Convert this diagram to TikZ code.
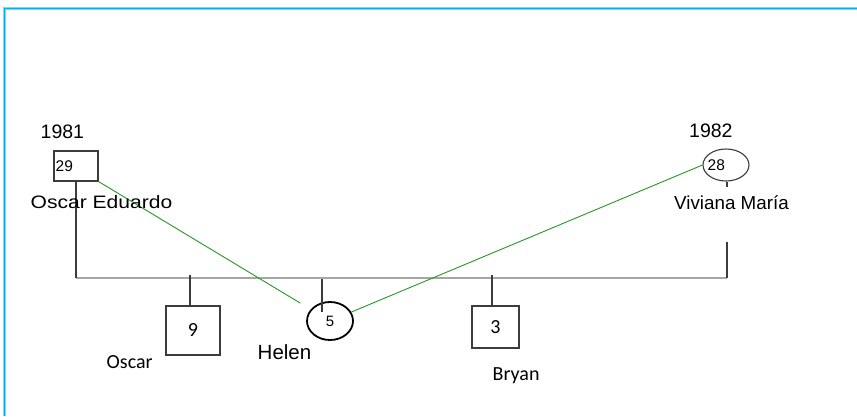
\documentclass[tikz,border=0pt]{standalone}
\usepackage{fontspec}
\setmainfont{Liberation Sans}
\newfontfamily\calibrilike{Carlito}
\usetikzlibrary{shapes.geometric,calc}
\definecolor{framecyan}{RGB}{0,176,240}
\definecolor{framelight}{RGB}{120,215,250}
\definecolor{tiegreen}{RGB}{40,150,40}
\definecolor{sibgray}{RGB}{166,166,166}
\definecolor{linedark}{RGB}{60,60,60}
\tikzset{
  male/.style={draw=linedark, line width=1.1pt, rectangle, inner sep=0pt},
  female/.style={draw=linedark, line width=1.1pt, ellipse, inner sep=0pt},
  kin/.style={draw=linedark, line width=1.2pt},
  sibline/.style={draw=sibgray, line width=2pt},
  tie/.style={draw=tiegreen, line width=0.9pt},
  lbl/.style={inner sep=0pt, anchor=base west},
  arialtxt/.style={font=\fontsize{#1}{#1}\selectfont},
  calitxt/.style={font=\calibrilike\fontsize{#1}{#1}\selectfont},
}
\begin{document}
\begin{tikzpicture}[x=1pt, y=-1pt]
  \useasboundingbox (0,0) rectangle (857,416);
  \fill[white] (0,0) rectangle (857,416);

  % page frame (top and left edges)
  \draw[framelight, line width=3.5pt] (4.5,416) -- (4.5,8.5) -- (857,8.5);
  \draw[framecyan, line width=1.6pt] (4.5,416) -- (4.5,8.5) -- (857,8.5);

  % parents
  \node[male, minimum width=44pt, minimum height=30pt,
        label={[anchor=west, inner sep=2pt, arialtxt=15.5]west:29}]
        (father) at (76,166) {};
  \node[female, minimum width=46pt, minimum height=32pt,
        label={[anchor=west, inner sep=5pt, arialtxt=15.5]west:28}]
        (mother) at (726,165) {};

  % children
  \node[male, minimum width=54pt, minimum height=49pt, calitxt=20]
        (oscar) at (193,330.5) {9};
  \node[female, draw=black, line width=1.8pt, minimum width=46pt, minimum height=38pt,
        arialtxt=15] (helen) at (330,321) {5};
  \node[male, minimum width=47pt, minimum height=42pt, calitxt=20]
        (bryan) at (495.5,327) {3};

  % sibship line
  \coordinate (sibL) at (76,278);
  \coordinate (sibR) at (727,278);
  \coordinate (dropO) at (190,275);
  \coordinate (dropH) at (322,279);
  \coordinate (dropB) at (492,275);
  \draw[sibline] (sibL) -- (sibR);

  % parent and child links
  \draw[kin] (father.south) -- (sibL);
  \draw[kin] (mother.south -| sibR) -- (sibR);
  \draw[kin] (dropO) -- (dropO |- oscar.north);
  \draw[kin] (dropH) -- ($(dropH)+(0,33)$);
  \draw[kin] (dropB) -- (dropB |- bryan.north);

  % emotional ties
  \draw[tie, shorten >=12pt] (father.south east) -- (helen);
  \draw[tie] (helen) -- (mother.west);

  % names and years
  \node[lbl, arialtxt=19.5] (y1981) at (40.5,138) {1981};
  \node[lbl, arialtxt=19.5] (y1982) at (689,137.7) {1982};
  \node[lbl, arialtxt=18] (nfather) at (30.5,208.3) {\scalebox{1.17}[1]{Oscar Eduardo}};
  \node[anchor=north, inner sep=0pt, fill=white, text height=22pt, text depth=33pt,
        arialtxt=18.8] (nmother) at (731.5,187) {Viviana María};
  \node[lbl, calitxt=20] (noscar) at (106.5,368.3) {Oscar};
  \node[lbl, arialtxt=20.5] (nhelen) at (257.5,359.3) {Helen};
  \node[lbl, calitxt=20] (nbryan) at (492.5,380) {Bryan};
\end{tikzpicture}
\end{document}
